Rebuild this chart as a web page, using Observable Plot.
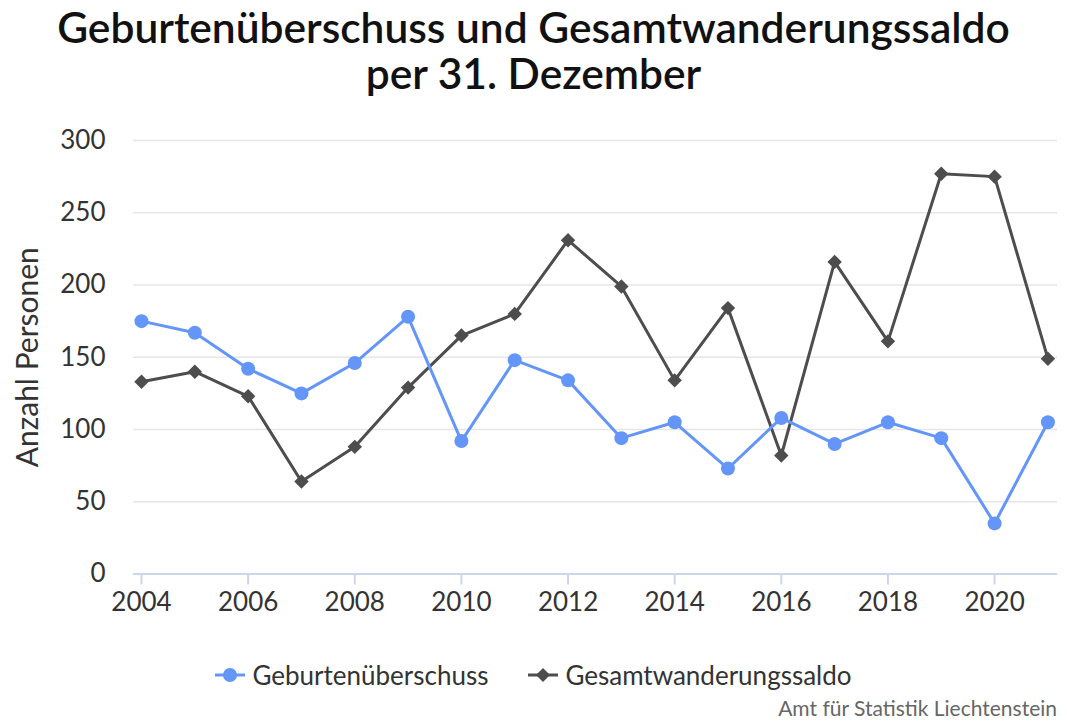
<!DOCTYPE html>
<html>
<head>
<meta charset="utf-8">
<script src="https://cdn.jsdelivr.net/npm/d3@7"></script>
<script src="https://cdn.jsdelivr.net/npm/@observablehq/plot@0.6"></script>
<style>
  html, body { margin: 0; padding: 0; background: #fff; }
  body { width: 1067px; height: 722px; position: relative; overflow: hidden; font-family: Lato, "Noto Sans", sans-serif; }
  #title { position: absolute; left: 0; top: 4px; width: 1067px; text-align: center; font-size: 42.5px; font-weight: 600; line-height: 46px; color: #111; }
  #chart { position: absolute; left: 0; top: 0; }
  #legend { position: absolute; left: 0; top: 659px; width: 1067px; display: flex; justify-content: center; gap: 40px; font-size: 26px; color: #333; }
  .item { display: flex; align-items: center; gap: 7px; }
  #caption { position: absolute; right: 10px; top: 695px; font-size: 21px; color: #666; }
</style>
</head>
<body>
<div id="title">Geburtenüberschuss und Gesamtwanderungssaldo<br>per 31. Dezember</div>
<div id="chart"></div>
<div id="legend"></div>
<div id="caption">Amt für Statistik Liechtenstein</div>
<script>
const years = [2004,2005,2006,2007,2008,2009,2010,2011,2012,2013,2014,2015,2016,2017,2018,2019,2020,2021];
const geburten = [175,167,142,125,146,178,92,148,134,94,105,73,108,90,105,94,35,105];
const wanderung = [133,140,123,64,88,129,165,180,231,199,134,184,82,216,161,277,275,149];
const seriesNames = ["Geburtenüberschuss", "Gesamtwanderungssaldo"];
const colors = ["#6495f9", "#4d4d4d"];
const yTicks = [0,50,100,150,200,250,300];
const xTicks = [2004,2006,2008,2010,2012,2014,2016,2018,2020];

const dataG = years.map((y,i) => ({year: y, value: geburten[i]}));
const dataW = years.map((y,i) => ({year: y, value: wanderung[i]}));

const plot = Plot.plot({
  width: 1067,
  height: 722,
  marginTop: 140,
  marginBottom: 148.5,
  marginLeft: 133,
  marginRight: 10,
  style: {fontFamily: "Lato, 'Noto Sans', sans-serif", fontSize: "26px", color: "#333", background: "transparent"},
  x: {domain: [2003.85, 2021.18], ticks: xTicks, tickFormat: d => String(d), label: null},
  y: {domain: [0, 300], ticks: yTicks, label: null},
  marks: [
    Plot.gridY(yTicks, {stroke: "#e6e6e6", strokeOpacity: 1, strokeWidth: 1.5}),
    Plot.ruleY([0], {stroke: "#ccd6eb", strokeWidth: 2}),
    Plot.axisX({ticks: xTicks, tickSize: 11, stroke: "#ccd6eb", strokeOpacity: 1, strokeWidth: 2, tickPadding: 8, fontSize: 26, fill: "#333", tickFormat: d => String(d), label: null}),
    Plot.axisY({ticks: yTicks, tickSize: 0, tickPadding: 28, fontSize: 26, fill: "#333", label: null}),
    Plot.text(["Anzahl Personen"], {frameAnchor: "left", textAnchor: "middle", rotate: -90, dx: -105, fontSize: 30, fill: "#333"}),
    Plot.line(dataW, {x: "year", y: "value", stroke: colors[1], strokeWidth: 3}),
    Plot.dot(dataW, {x: "year", y: "value", symbol: "diamond2", r: 6.5, fill: colors[1], stroke: "none"}),
    Plot.line(dataG, {x: "year", y: "value", stroke: colors[0], strokeWidth: 3}),
    Plot.dot(dataG, {x: "year", y: "value", symbol: "circle", r: 7, fill: colors[0], stroke: "none"})
  ]
});
document.getElementById("chart").appendChild(plot);

const legend = document.getElementById("legend");
seriesNames.forEach((name, i) => {
  const item = document.createElement("div");
  item.className = "item";
  const sym = i === 0
    ? `<circle cx="15" cy="10" r="7" fill="${colors[i]}"/>`
    : `<path d="M15,3 L22,10 L15,17 L8,10 Z" fill="${colors[i]}"/>`;
  item.innerHTML = `<svg width="30" height="20"><line x1="0" x2="30" y1="10" y2="10" stroke="${colors[i]}" stroke-width="3"/>${sym}</svg><span>${name}</span>`;
  legend.appendChild(item);
});
</script>
</body>
</html>
